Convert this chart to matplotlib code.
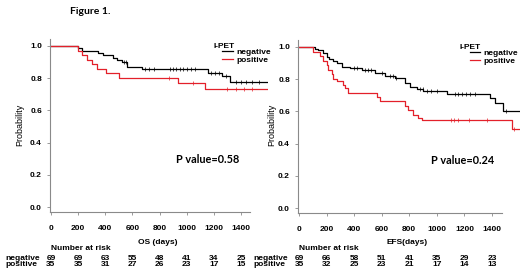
import numpy as np
import matplotlib
matplotlib.use('Agg')
from matplotlib import pyplot as plt
from matplotlib.transforms import blended_transform_factory

# OS curves (days, survival)
os_neg_t = [0, 201, 226, 349, 383, 457, 484, 523, 557, 668, 1157, 1258, 1319]
os_neg_s = [1.0, 0.986, 0.971, 0.957, 0.942, 0.928, 0.913, 0.899, 0.870, 0.857, 0.834, 0.811, 0.778]
os_neg_c = [540, 555, 690, 720, 760, 880, 900, 920, 950, 970, 1000, 1030, 1060, 1180, 1210, 1240, 1290, 1360, 1400, 1440, 1480, 1530]
os_pos_t = [0, 201, 226, 263, 300, 337, 405, 501, 938, 1135]
os_pos_s = [1.0, 0.971, 0.943, 0.914, 0.886, 0.857, 0.829, 0.800, 0.768, 0.730]
os_pos_c = [870, 1046, 1300, 1360, 1420, 1480]

# EFS curves
efs_neg_t = [0, 116, 138, 174, 200, 215, 247, 273, 310, 370, 454, 551, 624, 696, 769, 805, 853, 901, 1071, 1385, 1421, 1482]
efs_neg_s = [1.0, 0.990, 0.978, 0.965, 0.938, 0.925, 0.912, 0.898, 0.877, 0.867, 0.856, 0.836, 0.821, 0.805, 0.774, 0.753, 0.740, 0.725, 0.710, 0.680, 0.650, 0.600]
efs_neg_c = [400, 420, 480, 500, 520, 600, 660, 680, 700, 880, 900, 930, 960, 1000, 1130, 1150, 1180, 1210, 1240, 1280, 1500]
efs_pos_t = [0, 101, 152, 174, 200, 210, 236, 248, 273, 321, 334, 353, 563, 587, 769, 792, 827, 863, 890, 1542]
efs_pos_s = [1.0, 0.971, 0.943, 0.914, 0.886, 0.857, 0.829, 0.800, 0.786, 0.764, 0.743, 0.714, 0.690, 0.665, 0.635, 0.610, 0.580, 0.560, 0.545, 0.490]
efs_pos_c = [1100, 1125, 1150, 1230, 1360, 1560]

risk_times = [0, 200, 400, 600, 800, 1000, 1200, 1400]
os_risk_neg = [69, 69, 63, 55, 48, 41, 34, 25]
os_risk_pos = [35, 35, 31, 27, 26, 23, 17, 15]
efs_risk_neg = [69, 66, 58, 51, 41, 35, 29, 23]
efs_risk_pos = [35, 32, 25, 23, 21, 17, 14, 13]

t_end = 1600
RED = '#e3202a'
W, H = 520, 275
bold = {'family': 'Liberation Sans', 'weight': 'bold', 'size': 6}

fig = plt.figure(figsize=(W / 100, H / 100), dpi=100)


def km(ax, t, s, c, color, label):
    tt = list(t) + [t_end]
    ss = list(s) + [s[-1]]
    line, = ax.step(tt, ss, where='post', color=color, lw=0.9, label=label)
    idx = np.searchsorted(t, c, side='right') - 1
    ax.plot(c, np.array(s)[idx], ls='none', marker='|', ms=3, mew=0.5, color=color)
    return line


def panel(rect, curves, risk_neg, risk_pos, xlabel, pval, pv_x, leg_x, ylab_x, row_x):
    ax = fig.add_axes(rect)
    h1 = km(ax, *curves[0], 'black', 'negative')
    h2 = km(ax, *curves[1], RED, 'positive')
    ax.set_xlim(-10, t_end)
    ax.set_ylim(-0.031, 1.04)
    for sp in ['top', 'right']:
        ax.spines[sp].set_visible(False)
    for sp in ['left', 'bottom']:
        ax.spines[sp].set_color('#8a8a8a')
        ax.spines[sp].set_linewidth(0.8)
    ax.spines['bottom'].set_bounds(-10, 1470)
    ax.set_xticks(risk_times)
    ax.set_yticks([0, 0.2, 0.4, 0.6, 0.8, 1.0])
    ax.set_yticklabels(['0.0', '0.2', '0.4', '0.6', '0.8', '1.0'])
    ax.tick_params(axis='x', length=2.5, width=0.6, color='#8a8a8a', pad=7)
    ax.tick_params(axis='y', length=2.5, width=0.6, color='#8a8a8a', pad=3)
    for lb in ax.get_xticklabels() + ax.get_yticklabels():
        lb.set_fontproperties(bold)
    ax.patch.set_visible(False)

    ax.text(leg_x, 0.995, 'I-PET', fontdict=bold, ha='left', va='center')
    ax.legend(handles=[h1, h2], loc='upper left', bbox_to_anchor=(leg_x + 70, 0.985),
              bbox_transform=ax.transData, frameon=False, prop=bold,
              handlelength=1.3, handletextpad=0.4, labelspacing=0.0, borderpad=0,
              borderaxespad=0)
    ax.text(pv_x, 0.295, pval, family='Lato', weight='bold', size=7.8, ha='left', va='center')

    tr = blended_transform_factory(ax.transData, fig.transFigure)
    ax.text(785, 1 - 243 / H, xlabel, fontdict=bold, ha='center', va='center', transform=tr)
    ax.text(0, 1 - 248 / H, 'Number at risk', fontdict=bold, ha='left', va='center', transform=tr)
    for x, a, b in zip(risk_times, risk_neg, risk_pos):
        ax.text(x, 1 - 258 / H, str(a), fontdict=bold, ha='center', va='center', transform=tr)
        ax.text(x, 1 - 265 / H, str(b), fontdict=bold, ha='center', va='center', transform=tr)
    fig.text(row_x / W, 1 - 258 / H, 'negative', fontdict=bold, ha='left', va='center')
    fig.text(row_x / W, 1 - 265 / H, 'positive', fontdict=bold, ha='left', va='center')
    fig.text(ylab_x / W, 1 - 125 / H, 'Probability', family='Liberation Sans', size=6.5,
             rotation=90, ha='center', va='center')
    return ax


panel([49.6 / W, 63 / H, 218.5 / W, 172.5 / H],
      [(os_neg_t, os_neg_s, os_neg_c), (os_pos_t, os_pos_s, os_pos_c)],
      os_risk_neg, os_risk_pos, 'OS (days)', 'P value=0.58', 920, 1194, 20, 5)
panel([297.6 / W, 62 / H, 222 / W, 172.5 / H],
      [(efs_neg_t, efs_neg_s, efs_neg_c), (efs_pos_t, efs_pos_s, efs_pos_c)],
      efs_risk_neg, efs_risk_pos, 'EFS(days)', 'P value=0.24', 957, 1167, 272, 253)

fig.text(70 / W, 1 - 11 / H, 'Figure 1.', family='Lato', weight='bold', size=7.5, ha='left', va='center')

fig.savefig('out.png', dpi=100)
